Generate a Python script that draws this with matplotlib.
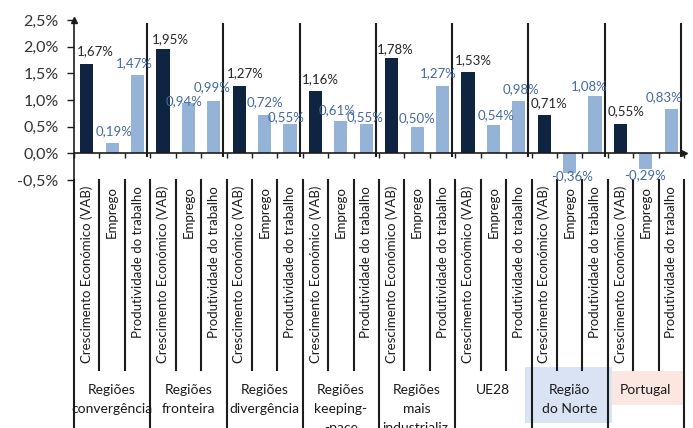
import matplotlib
matplotlib.use("Agg")
import matplotlib.pyplot as plt
from matplotlib.patches import Rectangle
from matplotlib.ticker import FuncFormatter

plt.rcParams['font.family'] = ['Lato', 'DejaVu Sans']

# --- data -------------------------------------------------------------
groups = ["Regiões\nconvergência", "Regiões\nfronteira", "Regiões\ndivergência",
          "Regiões\nkeeping-\n-pace", "Regiões\nmais\nindustrializ.", "UE28",
          "Região\ndo Norte", "Portugal"]
indicators = ["Crescimento Económico (VAB)", "Emprego", "Produtividade do trabalho"]
vab = [1.67, 1.95, 1.27, 1.16, 1.78, 1.53, 0.71, 0.55]
emprego = [0.19, 0.94, 0.72, 0.61, 0.50, 0.54, -0.36, -0.29]
produtividade = [1.47, 0.99, 0.55, 0.55, 1.27, 0.98, 1.08, 0.83]
yticks = [-0.5, 0.0, 0.5, 1.0, 1.5, 2.0, 2.5]

# label nudges (pixels) for each bar, in drawing order
label_nudge = [(9, 13), (2, 12), (-3, 12),
               (7, 10), (-4, 2), (-2, 13),
               (6, 12), (0, 13), (-4, 7),
               (5, 12), (-4, 11), (-1, 7),
               (4, 9), (0, 9), (-4, 12),
               (5, 12), (3, 9), (2, 12),
               (5, 12), (2, -4), (-6, 10),
               (6, 13), (-1, -6), (-7, 12)]

NAVY = "#0e2441"
LIGHT = "#95b3d7"
LBL_DARK = "#262626"
LBL_BLUE = "#44699f"
LINE = "#1c1c1c"

W, H = 693, 428
fig = plt.figure(figsize=(W / 100, H / 100), dpi=100)
ax = fig.add_axes([74 / W, 1 - 180 / H, 610 / W, 160 / H])

n_g = len(groups)
n_s = len(indicators)
series = [vab, emprego, produtividade]

xs, vals, cols, lcols = [], [], [], []
for g in range(n_g):
    for s in range(n_s):
        xs.append(g * n_s + s)
        vals.append(series[s][g])
        cols.append(NAVY if s == 0 else LIGHT)
        lcols.append(LBL_DARK if s == 0 else LBL_BLUE)

ax.bar(xs, vals, width=0.52, color=cols, zorder=2)

for x, v, c, (dx, dy) in zip(xs, vals, lcols, label_nudge):
    txt = f"{v:.2f}%".replace(".", ",")
    ax.annotate(txt, (x, v), xytext=(dx, dy), textcoords="offset pixels",
                ha="center", va="center", fontsize=9.5, color=c, zorder=4)

n_slots = n_g * n_s
ax.set_xlim(-0.5, n_slots - 0.5)
ax.set_ylim(-0.5, 2.5)
ax.set_xticks([])
ax.set_yticks(yticks)
ax.yaxis.set_major_formatter(FuncFormatter(lambda v, _: f"{v:.1f}%".replace(".", ",")))
ax.tick_params(axis="y", direction="out", length=5, width=1, pad=6,
               labelsize=11.5, colors=LINE, labelcolor="#333333")
for sp in ["top", "right", "bottom"]:
    ax.spines[sp].set_visible(False)
ax.spines["left"].set_color(LINE)
ax.spines["left"].set_linewidth(1.2)

# horizontal axis at zero with arrowheads on both axes
ax.axhline(0, color=LINE, lw=1.2, zorder=3)
ax.plot([n_slots - 0.5], [0], marker=">", ms=4, color=LINE, clip_on=False, zorder=5)
ax.plot([-0.5], [2.5], marker="^", ms=4, color=LINE, clip_on=False, zorder=5)

# tick marks between categories on the zero line
bounds = [i - 0.5 for i in range(n_slots + 1)]
ax.vlines(bounds, -0.09, 0, color=LINE, lw=1, zorder=3, clip_on=False)

# group separators inside the plot area
ax.vlines([g * n_s + n_s - 0.5 - 0.12 for g in range(n_g)], -0.065, 2.45,
          color=LINE, lw=1.5, zorder=3, clip_on=False)

# --- multi-level category axis below the plot --------------------------
tr = ax.get_xaxis_transform()


def fy(ypx):
    return (180 - ypx) / 160


# highlight boxes behind two group labels
ax.add_patch(Rectangle((6 * n_s - 0.5 - 0.26, fy(423)), n_s + 0.41, (423 - 366.7) / 160,
                       transform=tr, facecolor="#dae3f3", edgecolor="none",
                       clip_on=False, zorder=0))
ax.add_patch(Rectangle((7 * n_s - 0.5 + 0.15, fy(405)), n_s - 0.2, (405 - 370.7) / 160,
                       transform=tr, facecolor="#fbe6e2", edgecolor="none",
                       clip_on=False, zorder=0))

for i, b in enumerate(bounds):
    bottom = fy(432) if i % n_s == 0 else fy(370)
    ax.plot([b, b], [fy(180), bottom], transform=tr, color=LINE,
            lw=1.5, clip_on=False, zorder=3)

for x in xs:
    ax.text(x, fy(186), indicators[x % n_s], transform=tr, rotation=90,
            ha="center", va="top", fontsize=9.5, color="#1a1a1a")

for g, name in enumerate(groups):
    ax.text(g * n_s + 1, fy(384), name, transform=tr, ha="center", va="top",
            fontsize=10, color="#1a1a1a", linespacing=1.72, zorder=2)

fig.savefig("out.png", dpi=100)
